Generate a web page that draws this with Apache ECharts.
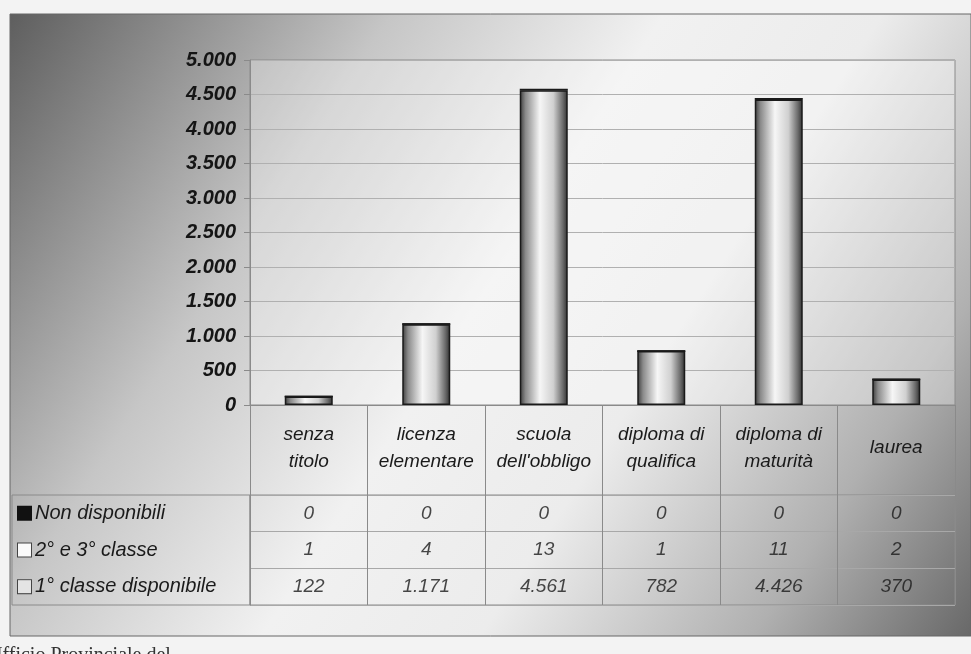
<!DOCTYPE html>
<html>
<head>
<meta charset="utf-8">
<script src="https://cdn.jsdelivr.net/npm/echarts@6/dist/echarts.min.js"></script>
<style>
  html, body { margin: 0; padding: 0; background: #f3f3f3; }
  #main { width: 971px; height: 654px; }
</style>
</head>
<body>
<div id="main"></div>
<script>
// Titoli di studio
var categories = ['senza\ntitolo', 'licenza\nelementare', "scuola\ndell'obbligo",
                  'diploma di\nqualifica', 'diploma di\nmaturità', 'laurea'];

// Serie (ordine della tabella, dall'alto)
var seriesNames = ['Non disponibili', '2° e 3° classe', '1° classe disponibile'];
var nonDisponibili = [0, 0, 0, 0, 0, 0];
var secondaTerza = [1, 4, 13, 1, 11, 2];
var primaClasse = [122, 1171, 4561, 782, 4426, 370];

var yTicks = { min: 0, max: 5000, interval: 500 };

function fmt(n) {
  return String(n).replace(/\B(?=(\d{3})+(?!\d))/g, '.');
}

var chart = echarts.init(document.getElementById('main'));

// Cilindro: gradiente orizzontale
var barFill = {
  type: 'linear', x: 0, y: 0, x2: 1, y2: 0,
  colorStops: [
    { offset: 0, color: '#3a3a3a' },
    { offset: 0.12, color: '#8a8a8a' },
    { offset: 0.42, color: '#f6f6f6' },
    { offset: 0.7, color: '#d0d0d0' },
    { offset: 0.9, color: '#6a6a6a' },
    { offset: 1, color: '#2e2e2e' }
  ]
};
var barStyle = { color: barFill, borderColor: '#1a1a1a', borderWidth: 1.5 };

// Dati per le celle della tabella
var tableRows = [nonDisponibili, secondaTerza, primaClasse];
var tableData = [];
tableRows.forEach(function (row, r) {
  row.forEach(function (v, c) {
    tableData.push([c, r, v]);
  });
});

var legendBoxes = [
  { backgroundColor: '#111', borderColor: '#111' },
  { backgroundColor: '#fafafa', borderColor: '#444' },
  { backgroundColor: '#e4e4e4', borderColor: '#444' }
];
var rich = { t: { fontFamily: 'Liberation Sans', fontStyle: 'italic', fontSize: 20, color: '#1a1a1a', padding: [0, 0, 0, 4] } };
legendBoxes.forEach(function (b, i) {
  rich['b' + i] = { width: 13, height: 13, backgroundColor: b.backgroundColor, borderColor: b.borderColor, borderWidth: 1 };
});

var option = {
  backgroundColor: '#f3f3f3',
  animation: false,
  graphic: [
    {
      type: 'rect', z: -10, silent: true,
      shape: { x: 10, y: 14, width: 961, height: 622 },
      style: {
        fill: {
          type: 'linear', x: 0, y: 0, x2: 1, y2: 1,
          colorStops: [
            { offset: 0, color: '#5e5e5e' },
            { offset: 0.28, color: '#c6c6c6' },
            { offset: 0.48, color: '#f1f1f1' },
            { offset: 0.64, color: '#ececec' },
            { offset: 0.84, color: '#b0b0b0' },
            { offset: 1, color: '#686868' }
          ]
        },
        stroke: '#666', lineWidth: 1
      }
    },
    // bordo della colonna legenda
    {
      type: 'rect', z: -5, silent: true,
      shape: { x: 12, y: 495, width: 238, height: 110 },
      style: { fill: 'none', stroke: '#8a8a8a', lineWidth: 1 }
    },
    {
      type: 'text', left: -12, top: 646, silent: true,
      style: { text: 'Ufficio Provinciale del', font: '20px "Liberation Serif"', fill: '#333' }
    }
  ],
  grid: [
    { left: 250, right: 16, top: 60, height: 345, show: true,
      backgroundColor: 'rgba(255,255,255,0.3)', borderColor: '#8a8a8a', borderWidth: 1 },
    { left: 250, right: 16, top: 495, height: 110, show: true,
      backgroundColor: 'transparent', borderColor: '#8a8a8a', borderWidth: 1 }
  ],
  xAxis: [
    {
      type: 'category', gridIndex: 0, data: categories,
      axisLine: { lineStyle: { color: '#8a8a8a' } },
      axisTick: { show: true, inside: false, length: 90, interval: 0, lineStyle: { color: '#8a8a8a' } },
      axisLabel: {
        interval: 0, margin: 43, verticalAlign: 'middle', lineHeight: 27,
        fontFamily: 'Liberation Sans', fontStyle: 'italic', fontSize: 19, color: '#1a1a1a'
      },
      splitLine: { show: false }
    },
    {
      type: 'category', gridIndex: 1, data: categories,
      axisLine: { show: false }, axisTick: { show: false }, axisLabel: { show: false },
      splitLine: { show: true, interval: 0, lineStyle: { color: '#8a8a8a' } }
    }
  ],
  yAxis: [
    {
      type: 'value', gridIndex: 0, min: yTicks.min, max: yTicks.max, interval: yTicks.interval,
      axisLine: { show: true, lineStyle: { color: '#8a8a8a' } },
      axisTick: { show: true, length: 6, lineStyle: { color: '#8a8a8a' } },
      axisLabel: {
        margin: 14, fontFamily: 'Liberation Sans', fontStyle: 'italic', fontWeight: 'bold',
        fontSize: 20, color: '#151515', formatter: function (v) { return fmt(v); }
      },
      splitLine: { show: true, lineStyle: { color: '#b0b0b0', width: 1 } }
    },
    {
      type: 'category', gridIndex: 1, data: seriesNames, inverse: true,
      axisLine: { show: true, lineStyle: { color: '#8a8a8a' } },
      axisTick: { show: false },
      axisLabel: {
        align: 'left', margin: 232, rich: rich,
        formatter: function (v) {
          var i = seriesNames.indexOf(v);
          return '{b' + i + '|}{t|' + v + '}';
        }
      },
      splitLine: { show: true, interval: 0, lineStyle: { color: '#a8a8a8' } }
    }
  ],
  series: [
    { name: seriesNames[2], type: 'bar', stack: 'tot', xAxisIndex: 0, yAxisIndex: 0,
      barWidth: 48, data: primaClasse, itemStyle: barStyle },
    { name: seriesNames[1], type: 'bar', stack: 'tot', xAxisIndex: 0, yAxisIndex: 0,
      barWidth: 48, data: secondaTerza, itemStyle: barStyle },
    { name: seriesNames[0], type: 'bar', stack: 'tot', xAxisIndex: 0, yAxisIndex: 0,
      barWidth: 48, data: nonDisponibili, itemStyle: barStyle },
    {
      type: 'scatter', xAxisIndex: 1, yAxisIndex: 1, data: tableData,
      symbol: 'rect', symbolSize: 1, itemStyle: { color: 'rgba(0,0,0,0)' },
      label: {
        show: true, position: 'inside',
        fontFamily: 'Liberation Sans', fontStyle: 'italic', fontSize: 19, color: '#1a1a1a',
        formatter: function (p) { return fmt(p.value[2]); }
      }
    }
  ]
};

chart.setOption(option);
</script>
</body>
</html>
